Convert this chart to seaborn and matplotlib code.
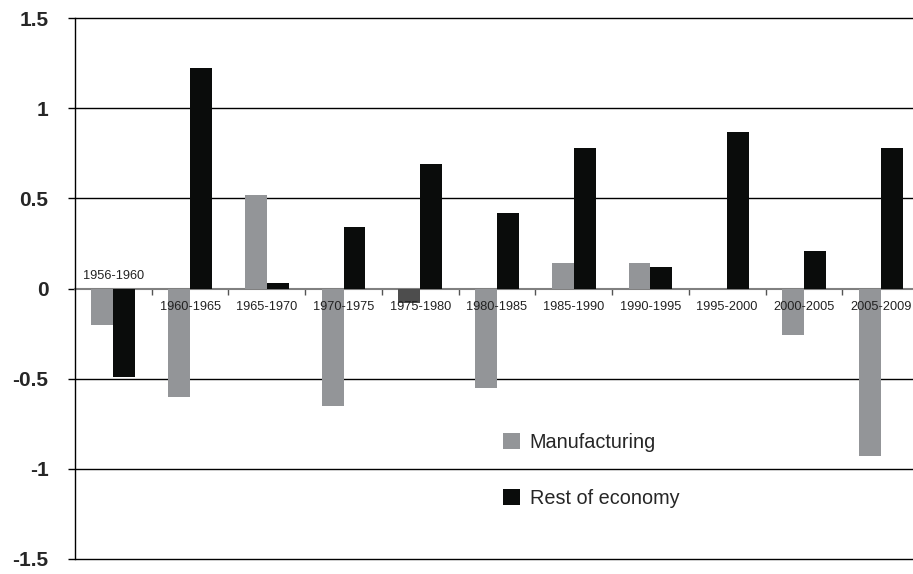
import matplotlib
matplotlib.use("Agg")
import matplotlib.pyplot as plt
import seaborn as sns
import pandas as pd

periods = ["1956-1960", "1960-1965", "1965-1970", "1970-1975", "1975-1980", "1980-1985",
           "1985-1990", "1990-1995", "1995-2000", "2000-2005", "2005-2009"]
manufacturing = [-0.20, -0.60, 0.52, -0.65, -0.08, -0.55, 0.14, 0.14, 0.0, -0.26, -0.93]
rest_of_economy = [-0.49, 1.22, 0.03, 0.34, 0.69, 0.42, 0.78, 0.12, 0.87, 0.21, 0.78]
series_names = ["Manufacturing", "Rest of economy"]
y_ticks = [-1.5, -1.0, -0.5, 0.0, 0.5, 1.0, 1.5]
y_tick_labels = ["-1.5", "-1", "-0.5", "0", "0.5", "1", "1.5"]

df = pd.DataFrame({
    "period": periods * 2,
    "value": manufacturing + rest_of_economy,
    "series": [series_names[0]] * len(periods) + [series_names[1]] * len(periods),
})

sns.set_style("white")
plt.rcParams["font.family"] = ["Liberation Sans", "DejaVu Sans"]
plt.rcParams["axes.unicode_minus"] = False

fig = plt.figure(figsize=(9.13, 5.74), dpi=100)
ax = fig.add_axes([75 / 913, 15 / 574, (919 - 75) / 913, (559 - 18) / 574])

palette = {"Manufacturing": "#939598", "Rest of economy": "#0a0c0b"}
sns.barplot(data=df, x="period", y="value", hue="series", order=periods,
            hue_order=series_names, palette=palette, width=0.57, gap=0,
            saturation=1, errorbar=None, ax=ax, legend=True, zorder=3,
            linewidth=0, edgecolor="none")

# darker manufacturing bar for 1975-1980 as in the reference
ax.containers[0][4].set_facecolor("#4d4d4d")

ax.set_ylim(-1.5, 1.5)
ax.set_xlim(-0.5, len(periods) - 0.5)
ax.set_yticks(y_ticks)
ax.set_yticklabels(y_tick_labels, fontsize=15, fontweight="bold")
ax.tick_params(axis="y", length=5, width=1, color="black", pad=14, left=True)

ax.yaxis.grid(True, color="black", linewidth=1)
ax.set_axisbelow(True)
for gl, t in zip(ax.yaxis.get_gridlines(), y_ticks):
    gl.set_clip_on(False)
    if t == 0:
        gl.set_visible(False)

for s in ["top", "right"]:
    ax.spines[s].set_visible(False)
ax.spines["left"].set_color("black")
ax.spines["left"].set_linewidth(1)
ax.spines["bottom"].set_position(("data", 0))
ax.spines["bottom"].set_color("#808080")
ax.spines["bottom"].set_linewidth(1.5)
ax.spines["bottom"].set_zorder(2)

ax.set_xticks(range(len(periods)))
ax.set_xticklabels([""] * len(periods))
ax.tick_params(axis="x", which="major", length=0)
ax.set_xticks([i + 0.5 for i in range(len(periods) - 1)], minor=True)
ax.tick_params(axis="x", which="minor", length=4.5, width=1, color="#555555", bottom=True)
for i, p in enumerate(periods):
    if i == 0:
        ax.text(i, 0.035, p, ha="center", va="bottom", fontsize=9.2, color="#222222", zorder=10)
    else:
        ax.text(i, -0.07, p, ha="center", va="top", fontsize=9.2, color="#222222", zorder=10)

ax.set_xlabel("")
ax.set_ylabel("")

leg = ax.legend(loc="upper left", bbox_to_anchor=((503 - 75) / 844, (559 - 433) / 541),
                frameon=False, fontsize=14.3, handlelength=0.84, handleheight=0.84,
                handletextpad=0.5, labelspacing=1.85, borderaxespad=0, borderpad=0)
leg.set_zorder(5)

fig.savefig("out.png", dpi=100)
